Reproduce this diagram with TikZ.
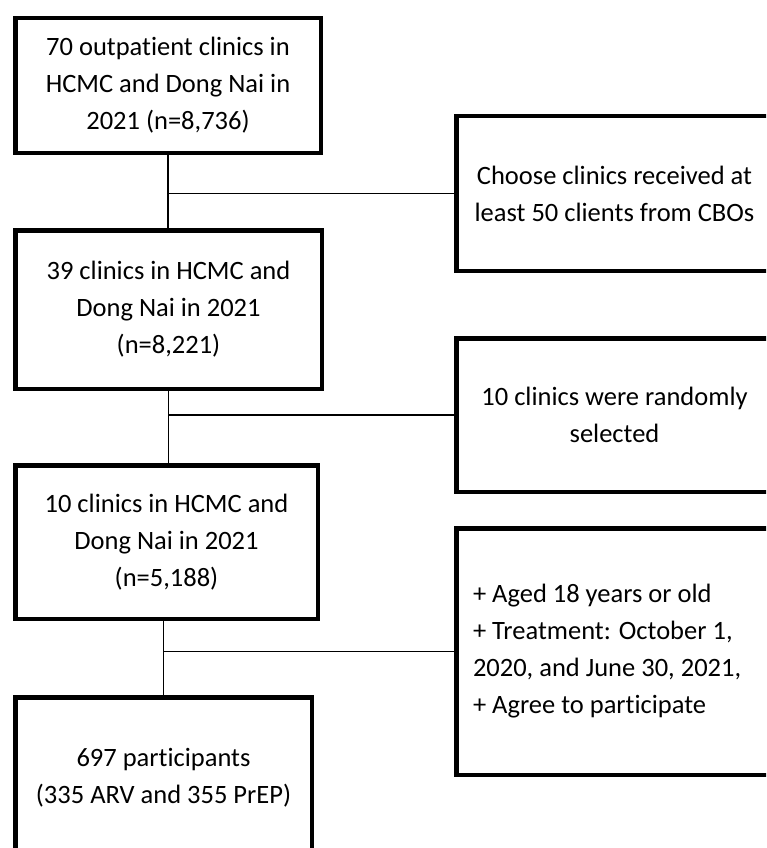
\documentclass[tikz,border=0pt]{standalone}
\usepackage{fontspec}
\setmainfont{Carlito}[Ligatures=NoCommon]
\usetikzlibrary{positioning}

\begin{document}
\begin{tikzpicture}[x=1pt, y=-1pt,
    every node/.style={font=\fontsize{26.5}{37}\selectfont},
    stage/.style={draw, line width=4.5pt, align=center, inner sep=0pt},
    filter/.style={draw, line width=4.5pt, align=center, inner sep=0pt},
    link/.style={line width=1.3pt}
]
\useasboundingbox (0,0) rectangle (766,848);
\clip (0,0) rectangle (766,848);
% Left boxes
\node[stage, minimum width=305.5pt, minimum height=134.5pt] (b1) at (168, 85.5)
    {70 outpatient clinics in\\HCMC and Dong Nai in\\2021 (n=8,736)};
\node[stage, minimum width=306.5pt, minimum height=158.5pt] (b2) at (168.5, 309.5)
    {39 clinics in HCMC and\\Dong Nai in 2021\\(n=8,221)};
\node[stage, minimum width=302.5pt, minimum height=153.5pt] (b3) at (166.5, 542)
    {10 clinics in HCMC and\\Dong Nai in 2021\\(n=5,188)};
\node[stage, minimum width=296.5pt, minimum height=160.5pt] (b4) at (163.5, 777.5)
    {697 participants\\(335 ARV and 355 PrEP)};
% Right boxes
\node[filter, minimum width=316.5pt, minimum height=154.5pt] (r1) at (614.5, 193.5)
    {Choose clinics received at\\least 50 clients from CBOs};
\node[filter, minimum width=316.5pt, minimum height=153.5pt] (r2) at (614.5, 415)
    {10 clinics were randomly\\selected};
\node[filter, minimum width=316.5pt, minimum height=246.5pt, align=flush left, text width=283pt] (r3) at (614.5, 651.5)
    {+ Aged 18 years or old\\+ Treatment: October 1,\\2020, and June 30, 2021,\\+ Agree to participate};
% Connectors
\draw[link] (b1.south) -- (b1.south |- b2.north);
\draw[link] (b1.south |- r1.west) -- (r1.west);
\draw[link] (b2.south) -- (b2.south |- b3.north);
\draw[link] (b2.south |- r2.west) -- (r2.west);
\draw[link] (b4.north |- b3.south) -- (b4.north);
\draw[link] (b4.north |- r3.west) -- (r3.west);
\end{tikzpicture}
\end{document}
